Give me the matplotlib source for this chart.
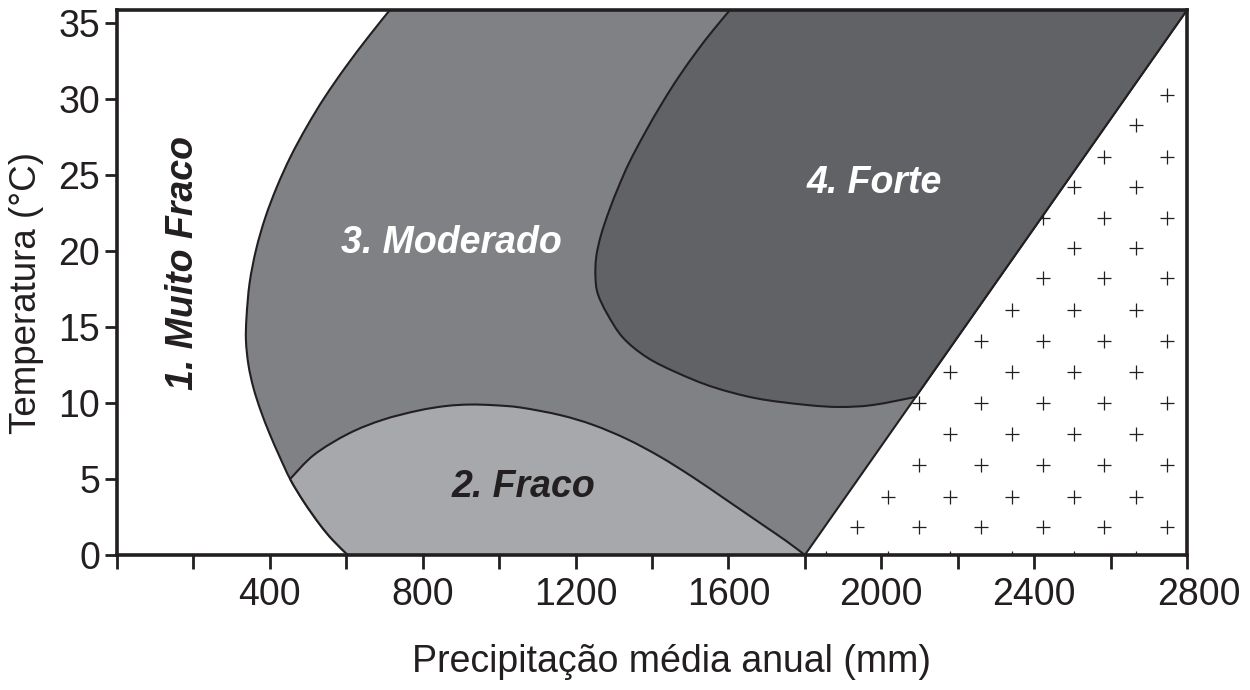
import matplotlib
matplotlib.use("Agg")
import matplotlib.pyplot as plt
from matplotlib.patches import PathPatch
from matplotlib.path import Path
from matplotlib.transforms import ScaledTranslation

plt.rcParams['font.family'] = ['Liberation Sans', 'DejaVu Sans']

# ---- data ----
Y_MAX = 35.86
X_MAX = 2800

# outer boundary of zone 3 (Moderado), top -> bottom
outer_x = [714, 658, 598, 543, 497, 454, 418, 388, 364, 347, 339, 337.5, 344, 357, 376, 399, 425, 453, 489, 531, 564, 604]
outer_y = [35.86, 34.1, 32.1, 30.1, 28.2, 26.2, 24.2, 22.2, 20.1, 17.9, 15.7, 14.1, 12.5, 11.0, 9.5, 8.0, 6.5, 5.0, 3.5, 2.0, 1.0, 0]

# upper boundary of zone 2 (Fraco), left -> right
fraco_x = [453, 516, 607, 696, 788, 860, 924, 990, 1057, 1159, 1246, 1335, 1421, 1507, 1596, 1683, 1753, 1800]
fraco_y = [5.0, 6.6, 8.0, 8.9, 9.5, 9.8, 9.9, 9.85, 9.7, 9.21, 8.56, 7.62, 6.47, 5.12, 3.60, 2.10, 0.89, 0]

# boundary of zone 4 (Forte), top -> junction with the diagonal
forte_x = [1604, 1559, 1519, 1471, 1428, 1382, 1340, 1312, 1287, 1266, 1254, 1252, 1258, 1282, 1324, 1387, 1465, 1560, 1675, 1806, 1892, 1978, 2090]
forte_y = [35.86, 34.5, 33.2, 31.5, 29.8, 27.8, 25.8, 24.2, 22.6, 21.0, 19.6, 18.3, 17.2, 15.9, 14.3, 13.0, 12.0, 11.05, 10.3, 9.87, 9.74, 9.87, 10.4]

# diagonal limit line
diag_x = [1800, 2800]
diag_y = [0, 35.86]

# plus-sign pattern lattice (two staggered sets)
rows_A = [1.84, 5.92, 10.0, 14.08, 18.2, 22.2, 26.2, 30.3]
cols_A = [1937, 2099, 2261, 2423, 2583, 2748]
rows_B = [-0.2, 3.82, 7.96, 12.04, 16.1, 20.2, 24.2, 28.3]
cols_B = [1855, 2018, 2180, 2342, 2504, 2667]

zone_labels = ["1. Muito Fraco", "2. Fraco", "3. Moderado", "4. Forte"]
zone_label_x = [172, 1063, 874, 1981]
zone_label_y = [19.2, 4.5, 20.5, 24.5]

x_ticks = [0, 200, 400, 600, 800, 1000, 1200, 1400, 1600, 1800, 2000, 2200, 2400, 2600, 2800]
x_ticklabels = ["", "", "400", "", "800", "", "1200", "", "1600", "", "2000", "", "2400", "", "2800"]
y_ticks = [0, 5, 10, 15, 20, 25, 30, 35]
y_ticklabels = ["0", "5", "10", "15", "20", "25", "30", "35"]

# ---- styles ----
DARK = "#231f20"
C_FRACO = "#a7a8ab"
C_MOD = "#808184"
C_FORTE = "#616266"
LW = 1.5


def smooth_segments(xs, ys):
    """Cubic Bezier segments (Catmull-Rom style) passing through the read points."""
    pts = list(zip(xs, ys))
    n = len(pts)
    segs = []
    for i in range(n - 1):
        p0 = pts[i - 1] if i > 0 else pts[i]
        p1 = pts[i]
        p2 = pts[i + 1]
        p3 = pts[i + 2] if i + 2 < n else pts[i + 1]
        c1 = (p1[0] + (p2[0] - p0[0]) / 6.0, p1[1] + (p2[1] - p0[1]) / 6.0)
        c2 = (p2[0] - (p3[0] - p1[0]) / 6.0, p2[1] - (p3[1] - p1[1]) / 6.0)
        segs.append((p1, c1, c2, p2))
    return segs


def reverse_segments(segs):
    return [(s[3], s[2], s[1], s[0]) for s in segs[::-1]]


def build_path(parts):
    """parts: list of ('curve', segs) or ('line', [points]) in order; closed."""
    verts, codes = [], []
    for kind, data in parts:
        if kind == "curve":
            for (p1, c1, c2, p2) in data:
                if not verts:
                    verts.append(p1)
                    codes.append(Path.MOVETO)
                verts += [c1, c2, p2]
                codes += [Path.CURVE4] * 3
        else:
            for p in data:
                verts.append(p)
                codes.append(Path.MOVETO if len(codes) == 0 else Path.LINETO)
    verts.append(verts[0])
    codes.append(Path.CLOSEPOLY)
    return Path(verts, codes)


fig = plt.figure(figsize=(12.5, 6.9), dpi=100)
ax = fig.add_axes([117/1250, 1 - 555/690, (1187-117)/1250, (555-10)/690])
ax.set_xlim(0, X_MAX)
ax.set_ylim(0, Y_MAX)


def diag_at(y):
    return diag_x[0] + (y - diag_y[0]) * (diag_x[1] - diag_x[0]) / (diag_y[1] - diag_y[0])

# plus pattern (right of the diagonal), drawn under the zones
px, py = [], []
for rows, cols in ((rows_A, cols_A), (rows_B, cols_B)):
    for yy in rows:
        for xx in cols:
            if xx > diag_at(yy):
                px.append(xx)
                py.append(yy)
ax.plot(px, py, linestyle="none", marker="+", markersize=10, markeredgewidth=0.9,
        color=DARK, zorder=0.5)

outer_segs = smooth_segments(outer_x, outer_y)
fraco_segs = smooth_segments(fraco_x, fraco_y)
forte_segs = smooth_segments(forte_x, forte_y)

# zone 3 (Moderado)
path3 = build_path([("curve", outer_segs),
                    ("line", [(diag_x[0], diag_y[0]), (diag_x[1], diag_y[1])])])
ax.add_patch(PathPatch(path3, facecolor=C_MOD, edgecolor=DARK, linewidth=LW, zorder=1))

# zone 4 (Forte)
path4 = build_path([("curve", forte_segs), ("line", [(diag_x[1], diag_y[1])])])
ax.add_patch(PathPatch(path4, facecolor=C_FORTE, edgecolor=DARK, linewidth=LW, zorder=1.1))

# zone 2 (Fraco): its left edge is the lower part of the outer boundary
j = outer_y.index(fraco_y[0])
path2 = build_path([("curve", fraco_segs),
                    ("line", [(outer_x[-1], outer_y[-1])]),
                    ("curve", reverse_segments(outer_segs[j:]))])
ax.add_patch(PathPatch(path2, facecolor=C_FRACO, edgecolor=DARK, linewidth=LW, zorder=1.2))

# labels
lab_kw = dict(fontsize=27, fontweight="bold", fontstyle="italic", ha="center", va="center", zorder=3)
ax.text(zone_label_x[0], zone_label_y[0], zone_labels[0], rotation=90, color=DARK, **lab_kw)
ax.text(zone_label_x[1], zone_label_y[1], zone_labels[1], color=DARK, **lab_kw)
ax.text(zone_label_x[2], zone_label_y[2], zone_labels[2], color="white", **lab_kw)
ax.text(zone_label_x[3], zone_label_y[3], zone_labels[3], color="white", **lab_kw)

# axes styling
for s in ax.spines.values():
    s.set_linewidth(2.6)
    s.set_color(DARK)
    s.set_zorder(5)

ax.set_xticks(x_ticks)
ax.set_xticklabels(x_ticklabels)
ax.set_yticks(y_ticks)
ax.set_yticklabels(y_ticklabels)
ax.tick_params(axis="x", direction="out", length=10, width=2, color=DARK,
               labelsize=27, labelcolor=DARK, pad=6)
ax.tick_params(axis="y", direction="out", length=9, width=2, color=DARK,
               labelsize=27, labelcolor=DARK, pad=3)

# the last x label sits slightly right of its tick in the reference
last = ax.get_xticklabels()[-1]
last.set_transform(last.get_transform() + ScaledTranslation(12/100, 0, fig.dpi_scale_trans))

ax.set_xlabel("Precipitação média anual (mm)", fontsize=27, color=DARK)
ax.set_ylabel("Temperatura (°C)", fontsize=26.5, color=DARK)
ax.xaxis.set_label_coords((672-117)/1070, -(662-555)/545)
ax.yaxis.set_label_coords((27-117)/1070, (555-293)/545)
ax.xaxis.label.set_va("center")
ax.yaxis.label.set_va("center")

fig.savefig("out.png", dpi=100)
